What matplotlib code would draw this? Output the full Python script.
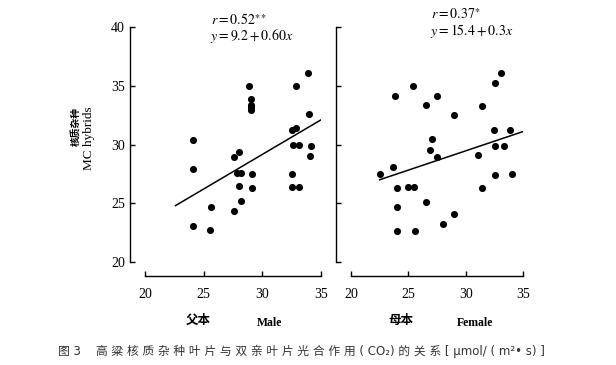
import numpy as np
import matplotlib
matplotlib.use('Agg')
import matplotlib.pyplot as plt

plt.rcParams['font.family'] = ['Liberation Serif', 'Noto Sans CJK SC', 'DejaVu Sans']
plt.rcParams['mathtext.fontset'] = 'stix'

# male parent (父本) vs MC hybrids
male_x = [28.9, 29.0, 29.0, 29.0, 29.0, 32.9, 33.9, 34.0, 32.5, 32.9, 24.1,
          32.65, 33.1, 34.15, 34.1, 24.1, 27.6, 28.0, 27.8, 28.2, 29.1, 32.5,
          28.0, 29.1, 32.5, 33.1, 28.2, 25.6, 27.6, 24.1, 25.5]
male_y = [35.0, 33.9, 33.4, 33.2, 32.9, 35.0, 36.1, 32.6, 31.2, 31.4, 30.4,
          30.0, 30.0, 29.9, 29.0, 27.9, 28.9, 29.4, 27.6, 27.6, 27.5, 27.5,
          26.5, 26.3, 26.4, 26.4, 25.2, 24.7, 24.3, 23.1, 22.7]
male_line_x = [22.6, 35.0]
male_line_y = [24.8, 32.1]

# female parent (母本) vs MC hybrids
female_x = [23.8, 25.4, 26.5, 27.5, 29.0, 31.4, 32.6, 33.1, 32.5, 33.9, 22.5,
            23.7, 24.0, 25.0, 25.5, 27.1, 26.9, 27.5, 24.0, 26.5, 24.0, 25.6,
            28.0, 29.0, 31.1, 31.4, 32.6, 33.3, 32.6, 34.0]
female_y = [34.1, 35.0, 33.4, 34.1, 32.5, 33.3, 35.2, 36.1, 31.2, 31.2, 27.5,
            28.1, 26.3, 26.4, 26.4, 30.5, 29.5, 28.9, 24.7, 25.1, 22.6, 22.6,
            23.2, 24.1, 29.1, 26.3, 29.9, 29.9, 27.4, 27.5]
female_line_x = [22.5, 35.0]
female_line_y = [27.0, 31.1]

xticks = [20, 25, 30, 35]
yticks = [20, 25, 30, 35, 40]

fig = plt.figure(figsize=(6.16, 3.65), dpi=100)
ax1 = fig.add_axes([145/616, 1-262/365, 176/616, 235/365])
ax2 = fig.add_axes([351/616, 1-262/365, 172/616, 235/365])

panels = [(ax1, male_x, male_y, male_line_x, male_line_y),
          (ax2, female_x, female_y, female_line_x, female_line_y)]
for ax, px, py, lx, ly in panels:
    ax.scatter(px, py, s=26, c='k', linewidths=0, zorder=3)
    ax.plot(lx, ly, color='k', lw=1.1)
    ax.set_xlim(20, 35)
    ax.set_ylim(20, 40)
    ax.set_xticks(xticks)
    ax.set_yticks(yticks)
    for s in ('top', 'right'):
        ax.spines[s].set_visible(False)
    ax.spines['left'].set_position(('outward', 11))
    ax.spines['bottom'].set_position(('outward', 10))
    for s in ('left', 'bottom'):
        ax.spines[s].set_linewidth(1.0)
    ax.tick_params(direction='in', length=3.5, width=1.0, labelsize=10)
    ax.tick_params(axis='x', pad=9)
    ax.tick_params(axis='y', pad=3.5)
    ax.patch.set_visible(False)

ax2.tick_params(axis='y', labelleft=False)

ax1.text(25.6, 40.6, r'$r = 0.52^{\ast\ast}$', fontsize=10, va='center', clip_on=False)
ax1.text(25.5, 39.2, r'$y = 9.2 + 0.60x$', fontsize=10, va='center', clip_on=False)
ax2.text(27.0, 41.1, r'$r = 0.37^{\ast}$', fontsize=10, va='center', clip_on=False)
ax2.text(26.9, 39.7, r'$y = 15.4 + 0.3x$', fontsize=10, va='center', clip_on=False)

fig.text(76/616, 1-126/365, '核质杂种', rotation=90, ha='center', va='center',
         fontsize=7, fontweight='bold', family=['Noto Sans CJK SC', 'DejaVu Sans'])
fig.text(89/616, 1-138/365, 'MC hybrids', rotation=90, ha='center', va='center', fontsize=9.5)

fig.text(198/616, 1-320/365, '父本', ha='center', va='center', fontsize=9,
         fontweight='bold', family=['Noto Sans CJK SC', 'DejaVu Sans'])
fig.text(270/616, 1-323/365, 'Male', ha='center', va='center', fontsize=8.5, fontweight='bold')
fig.text(401/616, 1-320/365, '母本', ha='center', va='center', fontsize=9,
         fontweight='bold', family=['Noto Sans CJK SC', 'DejaVu Sans'])
fig.text(475/616, 1-323/365, 'Female', ha='center', va='center', fontsize=8.5, fontweight='bold')

caption = '图 3    高 粱 核 质 杂 种 叶 片 与 双 亲 叶 片 光 合 作 用 ( CO₂) 的 关 系 [ μmol/ ( m²• s) ]'
fig.text(58/616, 1-351/365, caption, ha='left', va='center', fontsize=8.5, color='#333333',
         family=['DejaVu Sans', 'Noto Sans CJK SC'])

fig.savefig('out.png', dpi=100)
